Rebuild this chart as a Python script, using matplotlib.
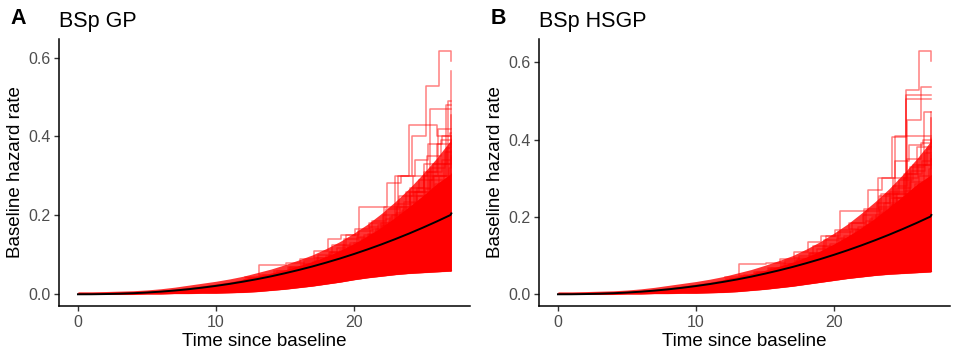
import matplotlib.pyplot as plt

plt.rcParams['font.family'] = ['Liberation Sans', 'DejaVu Sans']

T_END = 27.06

# posterior mean baseline hazard (black curve), same shape in both panels
mean_t = list(range(0, 28)) + [T_END]
mean_a = [0.0, 0.0001, 0.0006, 0.0014, 0.0027, 0.0044, 0.0067, 0.0095, 0.0128, 0.0168,
          0.0213, 0.0264, 0.0322, 0.0385, 0.0455, 0.0533, 0.0616, 0.0706, 0.0804, 0.0908,
          0.102, 0.1139, 0.1265, 0.1399, 0.154, 0.1689, 0.1845, 0.2009, 0.205]
mean_b = [0.0, 0.0001, 0.0006, 0.0014, 0.0027, 0.0044, 0.0067, 0.0095, 0.0128, 0.0168,
          0.0213, 0.0264, 0.0322, 0.0385, 0.0455, 0.0533, 0.0616, 0.0706, 0.0804, 0.0908,
          0.102, 0.1139, 0.1265, 0.1399, 0.154, 0.1689, 0.1845, 0.2009, 0.205]

# envelope of the dense bulk of draws (t = 0..27, end)
env_t = list(range(0, 28)) + [T_END]
low_a = [0.0, 0.0, 0.0, 0.0, 0.0, 0.001, 0.001, 0.002, 0.002, 0.003, 0.003, 0.004, 0.005, 0.007,
         0.010, 0.013, 0.017, 0.021, 0.026, 0.031, 0.037, 0.042, 0.046, 0.050, 0.053, 0.055, 0.057, 0.059, 0.060]
core_a = [0.005, 0.005, 0.005, 0.006, 0.007, 0.008, 0.010, 0.013, 0.017, 0.021, 0.026, 0.031, 0.038,
          0.045, 0.053, 0.062, 0.072, 0.083, 0.096, 0.111, 0.128, 0.148, 0.170, 0.195, 0.222, 0.250, 0.280, 0.305, 0.31]
mid_a = [0.006, 0.006, 0.007, 0.008, 0.009, 0.011, 0.014, 0.018, 0.023, 0.028, 0.033, 0.039, 0.046,
         0.055, 0.064, 0.075, 0.087, 0.100, 0.116, 0.134, 0.155, 0.178, 0.205, 0.235, 0.268, 0.305, 0.345, 0.390, 0.40]

low_b = [0.0, 0.0, 0.0, 0.0, 0.0, 0.001, 0.001, 0.002, 0.002, 0.003, 0.003, 0.004, 0.005, 0.007,
         0.010, 0.013, 0.017, 0.021, 0.026, 0.031, 0.036, 0.041, 0.045, 0.049, 0.052, 0.054, 0.056, 0.058, 0.059]
core_b = [0.005, 0.005, 0.005, 0.006, 0.007, 0.008, 0.010, 0.013, 0.017, 0.021, 0.026, 0.031, 0.038,
          0.045, 0.053, 0.062, 0.072, 0.083, 0.096, 0.112, 0.130, 0.150, 0.172, 0.197, 0.225, 0.254, 0.284, 0.308, 0.31]
mid_b = [0.006, 0.006, 0.007, 0.008, 0.009, 0.011, 0.014, 0.018, 0.023, 0.028, 0.033, 0.039, 0.046,
         0.055, 0.064, 0.075, 0.087, 0.100, 0.117, 0.136, 0.158, 0.182, 0.210, 0.240, 0.273, 0.310, 0.350, 0.395, 0.405]

# individual draws standing out of the bulk: values on t = 12..27,
# each draw with its own jump phase (fraction of a unit)
out_t = list(range(12, 28))
outl_a = [
    [0.040, 0.048, 0.058, 0.068, 0.080, 0.093, 0.108, 0.125, 0.145, 0.170, 0.220, 0.300, 0.400, 0.528, 0.617, 0.592],
    [0.035, 0.042, 0.050, 0.058, 0.068, 0.080, 0.093, 0.108, 0.125, 0.150, 0.180, 0.220, 0.270, 0.330, 0.420, 0.565],
    [0.033, 0.040, 0.047, 0.055, 0.064, 0.075, 0.088, 0.102, 0.118, 0.138, 0.160, 0.190, 0.240, 0.300, 0.490, 0.490],
    [0.030, 0.037, 0.044, 0.052, 0.061, 0.072, 0.085, 0.100, 0.116, 0.135, 0.158, 0.185, 0.220, 0.300, 0.480, 0.480],
    [0.031, 0.038, 0.045, 0.053, 0.062, 0.073, 0.086, 0.100, 0.118, 0.140, 0.170, 0.210, 0.260, 0.470, 0.470, 0.470],
    [0.034, 0.041, 0.049, 0.057, 0.067, 0.079, 0.092, 0.107, 0.124, 0.146, 0.172, 0.205, 0.250, 0.310, 0.380, 0.455],
    [0.036, 0.043, 0.051, 0.060, 0.070, 0.082, 0.096, 0.112, 0.130, 0.152, 0.180, 0.300, 0.430, 0.430, 0.400, 0.410],
    [0.045, 0.074, 0.074, 0.080, 0.090, 0.110, 0.140, 0.150, 0.165, 0.180, 0.200, 0.230, 0.260, 0.300, 0.330, 0.360],
    [0.040, 0.050, 0.058, 0.068, 0.085, 0.100, 0.125, 0.150, 0.222, 0.222, 0.283, 0.300, 0.340, 0.380, 0.400, 0.400],
    [0.038, 0.046, 0.055, 0.066, 0.078, 0.092, 0.108, 0.140, 0.160, 0.185, 0.215, 0.250, 0.300, 0.350, 0.390, 0.390],
    [0.036, 0.044, 0.052, 0.062, 0.073, 0.086, 0.100, 0.120, 0.140, 0.165, 0.195, 0.235, 0.270, 0.320, 0.360, 0.380],
    [0.034, 0.041, 0.049, 0.058, 0.069, 0.081, 0.095, 0.112, 0.130, 0.152, 0.176, 0.205, 0.240, 0.280, 0.320, 0.350],
    [0.037, 0.045, 0.053, 0.063, 0.074, 0.088, 0.104, 0.122, 0.142, 0.165, 0.190, 0.220, 0.260, 0.310, 0.340, 0.365],
    [0.039, 0.047, 0.056, 0.066, 0.077, 0.090, 0.118, 0.130, 0.150, 0.175, 0.200, 0.260, 0.290, 0.330, 0.370, 0.420],
    [0.036, 0.043, 0.052, 0.061, 0.072, 0.085, 0.100, 0.118, 0.138, 0.160, 0.186, 0.215, 0.250, 0.290, 0.330, 0.345],
    [0.033, 0.040, 0.048, 0.057, 0.067, 0.079, 0.093, 0.110, 0.128, 0.150, 0.175, 0.200, 0.232, 0.268, 0.300, 0.330],
]
phase_a = [0.2, 0.1, 0.8, 0.7, 0.5, 0.05, 0.0, 0.1, 0.4, 0.3, 0.6, 0.9, 0.35, 0.75, 0.55, 0.15]

outl_b = [
    [0.040, 0.048, 0.058, 0.068, 0.080, 0.093, 0.108, 0.125, 0.145, 0.170, 0.220, 0.300, 0.406, 0.528, 0.628, 0.603],
    [0.035, 0.042, 0.050, 0.058, 0.068, 0.080, 0.093, 0.108, 0.125, 0.150, 0.180, 0.225, 0.280, 0.450, 0.535, 0.535],
    [0.033, 0.040, 0.047, 0.055, 0.064, 0.075, 0.088, 0.102, 0.118, 0.138, 0.160, 0.195, 0.250, 0.515, 0.515, 0.515],
    [0.030, 0.037, 0.044, 0.052, 0.061, 0.072, 0.085, 0.100, 0.116, 0.135, 0.158, 0.185, 0.230, 0.505, 0.505, 0.505],
    [0.031, 0.038, 0.045, 0.053, 0.062, 0.073, 0.086, 0.100, 0.118, 0.140, 0.170, 0.210, 0.260, 0.330, 0.470, 0.470],
    [0.034, 0.041, 0.049, 0.057, 0.067, 0.079, 0.092, 0.107, 0.124, 0.146, 0.172, 0.205, 0.250, 0.310, 0.380, 0.455],
    [0.036, 0.043, 0.051, 0.060, 0.070, 0.082, 0.096, 0.112, 0.130, 0.152, 0.180, 0.260, 0.410, 0.410, 0.410, 0.410],
    [0.045, 0.077, 0.077, 0.082, 0.092, 0.110, 0.135, 0.150, 0.165, 0.185, 0.205, 0.235, 0.265, 0.300, 0.335, 0.360],
    [0.040, 0.050, 0.058, 0.068, 0.085, 0.100, 0.125, 0.150, 0.216, 0.216, 0.270, 0.300, 0.345, 0.385, 0.400, 0.400],
    [0.038, 0.046, 0.055, 0.066, 0.078, 0.092, 0.108, 0.140, 0.160, 0.185, 0.215, 0.255, 0.300, 0.350, 0.390, 0.395],
    [0.036, 0.044, 0.052, 0.062, 0.073, 0.086, 0.100, 0.120, 0.140, 0.165, 0.195, 0.235, 0.275, 0.320, 0.365, 0.380],
    [0.034, 0.041, 0.049, 0.058, 0.069, 0.081, 0.095, 0.112, 0.130, 0.152, 0.176, 0.205, 0.240, 0.285, 0.325, 0.350],
    [0.037, 0.045, 0.053, 0.063, 0.074, 0.088, 0.104, 0.122, 0.142, 0.165, 0.190, 0.220, 0.260, 0.310, 0.345, 0.365],
    [0.039, 0.047, 0.056, 0.066, 0.077, 0.090, 0.118, 0.130, 0.150, 0.175, 0.200, 0.260, 0.295, 0.335, 0.375, 0.470],
    [0.036, 0.043, 0.052, 0.061, 0.072, 0.085, 0.100, 0.118, 0.138, 0.160, 0.186, 0.215, 0.250, 0.290, 0.335, 0.350],
    [0.033, 0.040, 0.048, 0.057, 0.067, 0.079, 0.093, 0.110, 0.128, 0.150, 0.175, 0.200, 0.232, 0.268, 0.305, 0.335],
]
phase_b = [0.2, 0.3, 0.25, 0.2, 0.5, 0.05, 0.4, 0.1, 0.45, 0.3, 0.6, 0.9, 0.35, 0.75, 0.55, 0.15]

tags = ["A", "B"]
titles = ["BSp GP", "BSp HSGP"]
ylims = [(-0.0297, 0.647), (-0.0303, 0.660)]

fig = plt.figure(figsize=(9.59, 3.6), dpi=100)
lefts = [59.3 / 959, 539.3 / 959]
panels = [(mean_a, low_a, core_a, mid_a, outl_a, phase_a),
          (mean_b, low_b, core_b, mid_b, outl_b, phase_b)]
red = "#ff0000"

for i in range(2):
    mean, low, core, mid, outl, phase = panels[i]
    ax = fig.add_axes([lefts[i], 1 - 306 / 360, 410.5 / 959, 267 / 360])
    ax.fill_between(env_t, low, mid, color=red, alpha=0.8, lw=0)
    ax.fill_between(env_t, low, core, color=red, alpha=1.0, lw=0)
    for line, ph in zip(outl, phase):
        xs = [min(t + ph, T_END) for t in out_t] + [T_END]
        ax.step(xs, line + [line[-1]], where="post", color=red, alpha=0.5, lw=1.1)
    ax.plot(env_t, low, color=red, alpha=0.5, lw=1.1)
    ax.plot([T_END, T_END], [low[-1], mid[-1]], color=red, alpha=0.6, lw=1.1)
    ax.plot(mean_t, mean, color="black", lw=1.4)

    ax.set_xlim(-1.353, 28.4)
    ax.set_ylim(*ylims[i])
    ax.set_xticks([0, 10, 20])
    ax.set_yticks([0.0, 0.2, 0.4, 0.6])
    ax.set_yticklabels(["0.0", "0.2", "0.4", "0.6"])
    for s in ["top", "right"]:
        ax.spines[s].set_visible(False)
    for s in ["left", "bottom"]:
        ax.spines[s].set_linewidth(1.1)
        ax.spines[s].set_color("black")
    ax.tick_params(length=3.5, width=1.0, color="#333333", labelsize=11.5,
                   labelcolor="#4d4d4d", pad=3)
    ax.set_xlabel("Time since baseline", fontsize=13.5, labelpad=2)
    ax.set_ylabel("Baseline hazard rate", fontsize=13.5, labelpad=3)
    ax.set_title(titles[i], loc="left", fontsize=15.5, pad=9, x=0.0)
    fig.text(lefts[i] - 49 / 959, 1 - 24 / 360, tags[i], fontsize=15.5, fontweight="bold",
             ha="left", va="baseline")

fig.savefig("out.png", dpi=100)
